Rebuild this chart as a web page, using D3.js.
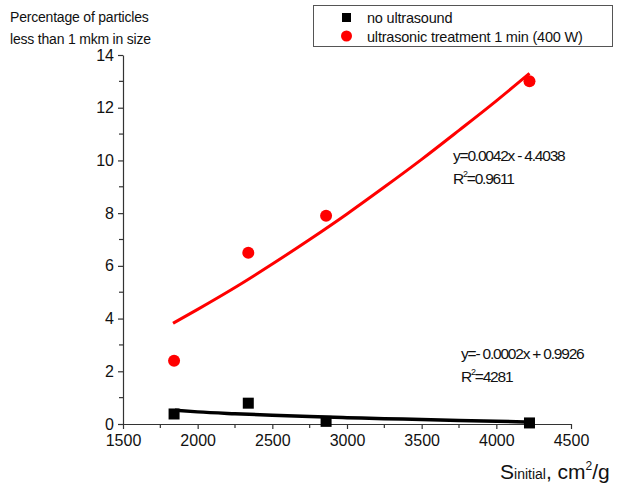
<!DOCTYPE html>
<html>
<head>
<meta charset="utf-8">
<script src="https://cdn.jsdelivr.net/npm/d3@7"></script>
<style>
  html, body { margin: 0; padding: 0; background: #fff; }
  svg { display: block; font-family: "Liberation Sans", Arial, sans-serif; }
</style>
</head>
<body>
<svg id="chart" width="619" height="486"></svg>
<script>
// Specific surface area of the sample, cm²/g
const surface = [1842, 2339, 2860, 4222];
// Share of particles below 1 µm, %
const noUltrasound = [0.38, 0.79, 0.1, 0.04];
const ultrasound = [2.4, 6.5, 7.9, 13.0];

// Trendline points
const trendX = [1835, 2000, 2250, 2500, 2750, 3000, 3250, 3500, 3750, 4000, 4222];
const trendRed = [3.82, 4.35, 5.18, 6.07, 7.0, 7.97, 8.99, 10.04, 11.14, 12.26, 13.3];
const trendBlackX = [1848, 2000, 2250, 2500, 2750, 3000, 3250, 3500, 3750, 4000, 4190];
const trendBlack = [0.52, 0.46, 0.39, 0.33, 0.28, 0.24, 0.2, 0.17, 0.13, 0.1, 0.08];

const xTicks = [1500, 2000, 2500, 3000, 3500, 4000, 4500];
const yTicks = [0, 2, 4, 6, 8, 10, 12, 14];

const legendLabels = ["no ultrasound", "ultrasonic treatment 1 min (400 W)"];
const eqRed = ["y=0.0042x - 4.4038", "0.9611"];
const eqBlack = ["y=- 0.0002x + 0.9926", "4281"];

const svg = d3.select("#chart");
const x = d3.scaleLinear().domain([1500, 4500]).range([123, 571]);
const y = d3.scaleLinear().domain([0, 14]).range([424, 55]);
const axisColor = "#333";

// Minor ticks
const xMinor = d3.range(1750, 4500, 500);
const yMinor = d3.range(1, 14, 2);

const gx = svg.append("g").attr("transform", `translate(0,${y(0)})`);
gx.call(d3.axisBottom(x).tickValues(xTicks).tickFormat(d3.format("d"))
  .tickSize(5).tickPadding(6).tickSizeOuter(0));
gx.selectAll(".minor").data(xMinor).enter().append("line")
  .attr("x1", d => x(d)).attr("x2", d => x(d)).attr("y1", 0).attr("y2", 4)
  .attr("stroke", axisColor);

const gy = svg.append("g").attr("transform", `translate(${x(1500)},0)`);
gy.call(d3.axisLeft(y).tickValues(yTicks).tickFormat(d3.format("d"))
  .tickSize(5).tickPadding(4).tickSizeOuter(0));
gy.selectAll(".minor").data(yMinor).enter().append("line")
  .attr("x1", 0).attr("x2", -4).attr("y1", d => y(d)).attr("y2", d => y(d))
  .attr("stroke", axisColor);

[gx, gy].forEach(g => {
  g.selectAll("path, line").attr("stroke", axisColor).attr("stroke-width", 1.2);
  g.selectAll("text").attr("font-size", 16).attr("fill", "#111")
    .attr("font-family", "Liberation Sans, Arial, sans-serif");
});

// Trendlines
const line = d3.line().curve(d3.curveMonotoneX);
svg.append("path")
  .attr("d", line(trendX.map((v, i) => [x(v), y(trendRed[i])])))
  .attr("fill", "none").attr("stroke", "#ff0000").attr("stroke-width", 3);
svg.append("path")
  .attr("d", line(trendBlackX.map((v, i) => [x(v), y(trendBlack[i])])))
  .attr("fill", "none").attr("stroke", "#000").attr("stroke-width", 3.5);

// Markers
const sq = 11;
svg.selectAll(".sq").data(surface).enter().append("rect")
  .attr("x", (d) => x(d) - sq / 2).attr("y", (d, i) => y(noUltrasound[i]) - sq / 2)
  .attr("width", sq).attr("height", sq).attr("fill", "#000");
svg.selectAll(".dot").data(surface).enter().append("circle")
  .attr("cx", d => x(d)).attr("cy", (d, i) => y(ultrasound[i]))
  .attr("r", 6).attr("fill", "#ff0000");

// Y-axis title
const yt = svg.append("text").attr("font-size", 14).attr("fill", "#111").attr("letter-spacing", -0.2);
yt.append("tspan").attr("x", 10).attr("y", 22).text("Percentage of particles");
yt.append("tspan").attr("x", 10).attr("y", 44).text("less than 1 mkm in size");

// X-axis title
const xt = svg.append("text").attr("x", 500).attr("y", 479).attr("fill", "#111").attr("font-size", 21);
xt.append("tspan").text("S");
xt.append("tspan").attr("font-size", 14).text("initial");
xt.append("tspan").text(", cm");
xt.append("tspan").attr("font-size", 12).attr("dy", -9).text("2");
xt.append("tspan").attr("dy", 9).text("/g");

// Legend
const lg = svg.append("g");
lg.append("rect").attr("x", 313.5).attr("y", 5.5).attr("width", 299).attr("height", 41)
  .attr("fill", "#fff").attr("stroke", "#555").attr("stroke-width", 1);
lg.append("rect").attr("x", 342).attr("y", 13).attr("width", 9).attr("height", 9).attr("fill", "#000");
lg.append("circle").attr("cx", 346.5).attr("cy", 36).attr("r", 5.5).attr("fill", "#ff0000");
lg.selectAll(".lt").data(legendLabels).enter().append("text")
  .attr("x", 367).attr("y", (d, i) => 23 + i * 19)
  .attr("font-size", 14.5).attr("fill", "#111").attr("letter-spacing", -0.2).text(d => d);

// Regression annotations
function equation(xPos, yPos, eq) {
  const g = svg.append("g").attr("font-size", 15.5).attr("fill", "#111").attr("letter-spacing", -1.2);
  g.append("text").attr("x", xPos).attr("y", yPos).text(eq[0]);
  const r = g.append("text").attr("x", xPos).attr("y", yPos + 23);
  r.append("tspan").text("R");
  r.append("tspan").attr("font-size", 9).attr("dy", -7).text("2");
  r.append("tspan").attr("dy", 7).text("=" + eq[1]);
}
equation(453, 161, eqRed);
equation(461, 359, eqBlack);
</script>
</body>
</html>
